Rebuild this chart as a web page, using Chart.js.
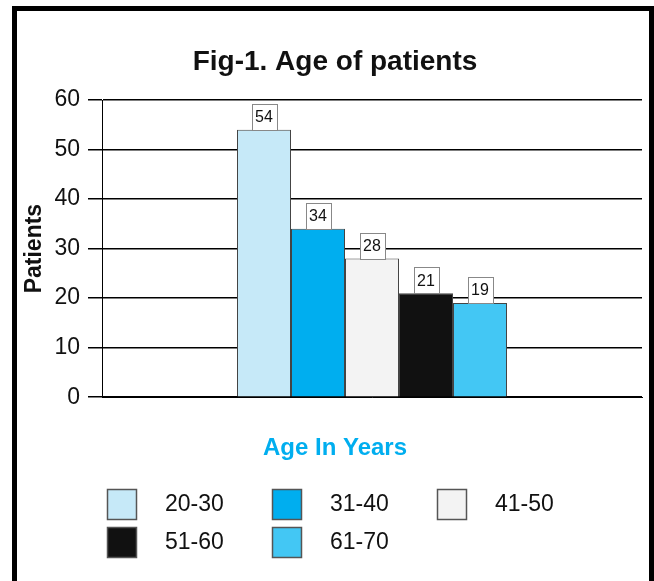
<!DOCTYPE html>
<html>
<head>
<meta charset="utf-8">
<script src="https://cdn.jsdelivr.net/npm/chart.js@4"></script>
<style>
  body { margin: 0; background: #fff; }
  #wrap { position: relative; width: 654px; height: 581px; overflow: hidden; }
  #frame {
    position: absolute; left: 12px; top: 6px; width: 632px; height: 600px;
    border: 5px solid #000; border-bottom: none; pointer-events: none;
  }
</style>
</head>
<body>
<div id="wrap">
  <canvas id="grafico" width="654" height="581"></canvas>
  <div id="frame"></div>
</div>
<script>
const faixas = ['20-30', '31-40', '41-50', '51-60', '61-70']
const pacientes = [54, 34, 28, 21, 19]
const yTicks = [0, 10, 20, 30, 40, 50, 60]

const cores = ['#c6e9f8', '#00aeef', '#f3f3f3', '#111111', '#43c7f4']
const fonte = 'Liberation Sans, Arial, sans-serif'

// caixinhas com o valor em cima de cada barra
const rotulos = {
  id: 'rotulos',
  afterDatasetsDraw(chart) {
    const ctx = chart.ctx
    ctx.save()
    ctx.font = '16px ' + fonte
    ctx.textAlign = 'center'
    ctx.textBaseline = 'middle'
    chart.data.datasets.forEach((ds, i) => {
      const bar = chart.getDatasetMeta(i).data[0]
      const txt = String(ds.data[0])
      const w = Math.round(ctx.measureText(txt).width) + 7
      const h = 26
      const x = Math.round(bar.x - w / 2) + 0.5
      const y = Math.round(bar.y - h) + 0.5
      ctx.fillStyle = '#fff'
      ctx.fillRect(x, y, w, h)
      ctx.strokeStyle = '#888'
      ctx.lineWidth = 1
      ctx.strokeRect(x, y, w, h)
      ctx.fillStyle = '#111'
      ctx.fillText(txt, bar.x, bar.y - h / 2 + 1)
    })
    ctx.restore()
  }
}

// legenda em grade de 3 colunas, alinhada a esquerda
const legenda = {
  id: 'legenda',
  afterDraw(chart) {
    const ctx = chart.ctx
    const x0 = 107, y0 = 489, colW = 165, rowH = 38
    ctx.save()
    ctx.font = '23px ' + fonte
    ctx.textBaseline = 'middle'
    chart.data.datasets.forEach((ds, i) => {
      const col = i % 3
      const row = Math.floor(i / 3)
      const x = x0 + col * colW
      const y = y0 + row * rowH
      ctx.fillStyle = ds.backgroundColor
      ctx.fillRect(x, y, 30, 31)
      ctx.strokeStyle = '#555'
      ctx.lineWidth = 1.5
      ctx.strokeRect(x + 0.5, y + 0.5, 29, 30)
      ctx.fillStyle = '#111'
      ctx.fillText(ds.label, x + 58, y + 16)
    })
    ctx.restore()
  }
}

const datasets = faixas.map((f, i) => ({
  label: f,
  data: [pacientes[i]],
  backgroundColor: cores[i],
  borderColor: '#444',
  borderWidth: 1,
  categoryPercentage: 0.5,
  barPercentage: 1
}))

new Chart(document.getElementById('grafico'), {
  type: 'bar',
  data: { labels: [''], datasets },
  options: {
    responsive: false,
    animation: false,
    layout: { padding: { left: 28, right: 12, top: 0, bottom: 118 } },
    plugins: {
      legend: { display: false },
      tooltip: { enabled: false },
      title: {
        display: true,
        text: 'Fig-1. Age of patients',
        color: '#111',
        font: { family: fonte, size: 28, weight: 'bold', lineHeight: 1.2 },
        padding: { top: 45, bottom: 21.4 }
      },
      // titulo do eixo x, centralizado na figura toda como no original
      subtitle: {
        display: true,
        position: 'bottom',
        text: 'Age In Years',
        color: '#00aeef',
        font: { family: fonte, size: 24, weight: 'bold', lineHeight: 1.2 },
        padding: { top: 37, bottom: 0 }
      }
    },
    scales: {
      x: {
        grid: { display: false, drawTicks: false, tickLength: 0 },
        border: { display: true, color: '#000' },
        ticks: { display: false }
      },
      y: {
        min: 0,
        max: 60,
        afterFit(scale) { scale.width = 74 },
        afterBuildTicks(scale) { scale.ticks = yTicks.map(v => ({ value: v })) },
        grid: { color: '#000', lineWidth: 1.5, tickLength: 14 },
        border: { display: true, color: '#000', width: 1 },
        ticks: {
          color: '#111',
          padding: 8,
          font: { family: fonte, size: 23 }
        },
        title: {
          display: true,
          text: 'Patients',
          color: '#111',
          font: { family: fonte, size: 23, weight: 'bold', lineHeight: 0.6 },
          padding: 0
        }
      }
    }
  },
  plugins: [rotulos, legenda]
})
</script>
</body>
</html>
